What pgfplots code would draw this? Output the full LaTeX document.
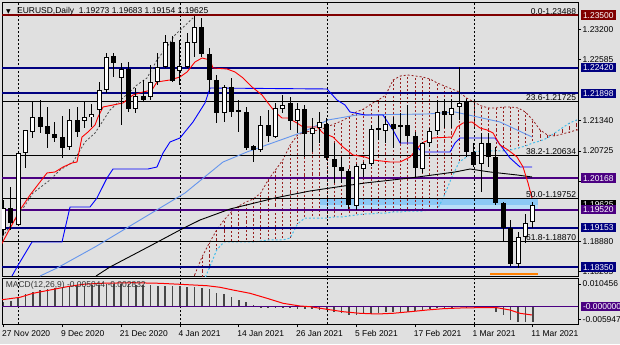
\documentclass[border=0pt]{standalone}
\usepackage{pgfplots}
\pgfplotsset{compat=1.18}
\usepackage{pgfplotstable}
\usepackage{fontspec}
\setmainfont{Liberation Sans}
\newfontfamily\dejavu{DejaVu Sans}
\newcommand\ff{\fontsize{8.5}{10}\selectfont}
\definecolor{bgc}{RGB}{224,224,224}
\definecolor{navyc}{RGB}{0,0,128}
\definecolor{purp}{RGB}{75,0,130}
\definecolor{dred}{RGB}{128,0,0}
\definecolor{cloudb}{RGB}{150,30,30}
\definecolor{cyanc}{RGB}{70,190,235}
\definecolor{cornf}{RGB}{100,149,237}
\definecolor{rectA}{RGB}{140,200,245}
\definecolor{rectB}{RGB}{185,222,248}
\definecolor{histc}{RGB}{70,70,70}

\pgfplotstableread{
i o h l c
0 1.19107 1.19720 1.19005 1.19556
1 1.19556 1.19986 1.19107 1.19250
2 1.19209 1.20701 1.19189 1.20680
3 1.20680 1.21150 1.20374 1.21150
4 1.21109 1.21722 1.20987 1.21416
5 1.21416 1.21763 1.21089 1.21212
6 1.21232 1.21620 1.20782 1.21068
7 1.21068 1.21314 1.20905 1.20987
8 1.21007 1.21436 1.20578 1.20782
9 1.20803 1.21579 1.20742 1.21355
10 1.21355 1.21620 1.21007 1.21109
11 1.21334 1.21743 1.21191 1.21416
12 1.21416 1.21681 1.21212 1.21477
13 1.21559 1.22131 1.21212 1.21968
14 1.21968 1.22724 1.21906 1.22642
15 1.22662 1.22724 1.22233 1.22519
16 1.22213 1.22519 1.21252 1.22397
17 1.22397 1.22540 1.21518 1.21579
18 1.21579 1.22008 1.21498 1.21845
19 1.21845 1.22172 1.21743 1.21763
20 1.21824 1.22478 1.21763 1.22131
21 1.22131 1.22724 1.22070 1.22437
22 1.22437 1.23091 1.22417 1.22948
23 1.22948 1.23071 1.22131 1.22151
24 1.22356 1.22989 1.22070 1.22458
25 1.22437 1.23132 1.22417 1.22948
26 1.22928 1.23488 1.22642 1.23255
27 1.23255 1.23430 1.22642 1.22703
28 1.22703 1.22826 1.21927 1.22172
29 1.22172 1.22274 1.21293 1.21498
30 1.21498 1.22070 1.21314 1.22029
31 1.22029 1.22213 1.21416 1.21518
32 1.21559 1.21763 1.21109 1.21518
33 1.21518 1.21620 1.20742 1.20782
34 1.20823 1.20844 1.20496 1.20742
35 1.20742 1.21436 1.20701 1.21252
36 1.21252 1.21559 1.20905 1.21028
37 1.21007 1.21702 1.20987 1.21600
38 1.21579 1.21865 1.21498 1.21661
39 1.21702 1.21824 1.21150 1.21334
40 1.21334 1.21702 1.21089 1.21579
41 1.21579 1.21661 1.20599 1.21068
42 1.21068 1.21395 1.20701 1.21191
43 1.21191 1.21518 1.20885 1.21314
44 1.21273 1.21395 1.20537 1.20578
45 1.20558 1.20885 1.20067 1.20394
46 1.20394 1.20599 1.20067 1.20312
47 1.20312 1.20353 1.19536 1.19618
48 1.19597 1.20455 1.19516 1.20415
49 1.20353 1.20496 1.20190 1.20455
50 1.20455 1.21252 1.20415 1.21171
51 1.21191 1.21436 1.20946 1.21150
52 1.21130 1.21436 1.20885 1.21273
53 1.21273 1.21416 1.20782 1.21171
54 1.21212 1.21498 1.20885 1.21252
55 1.21252 1.21661 1.20905 1.21028
56 1.21028 1.21109 1.20190 1.20374
57 1.20353 1.20905 1.20272 1.20885
58 1.20885 1.21191 1.20803 1.21130
59 1.21130 1.21763 1.21048 1.21518
60 1.21538 1.21784 1.21191 1.21457
61 1.21457 1.21784 1.21191 1.21600
62 1.21620 1.22430 1.21355 1.21702
63 1.21743 1.21784 1.20599 1.20701
64 1.20701 1.20885 1.20394 1.20435
65 1.20455 1.21089 1.19883 1.20885
66 1.20885 1.21089 1.20394 1.20599
67 1.20599 1.20803 1.19618 1.19659
68 1.19659 1.19680 1.18882 1.19148
69 1.19148 1.19311 1.18371 1.18412
70 1.18412 1.19066 1.18330 1.18964
71 1.18964 1.19434 1.18841 1.19250
72 1.19273 1.19683 1.19154 1.19625
}\candles

\pgfplotstableread{
x y
-0.48 1.18760
1.29 1.19250
2.24 1.19516
3.61 1.19822
4.97 1.20088
5.92 1.20272
7.01 1.20292
8.10 1.20394
9.32 1.20476
10.0 1.20496
10.68 1.21007
11.50 1.21109
12.45 1.21252
12.86 1.21416
13.54 1.21620
14.90 1.21661
16.26 1.21702
17.62 1.21865
18.98 1.21927
20.20 1.21968
20.88 1.22131
22.65 1.22172
24.01 1.22233
24.97 1.22335
26.05 1.22540
27.01 1.22621
28.10 1.22581
28.50 1.22417
30.41 1.22397
31.50 1.22335
32.59 1.22213
33.81 1.22029
35.17 1.21865
35.99 1.21702
36.94 1.21518
37.89 1.21395
38.71 1.21395
39.93 1.21293
40.75 1.21212
42.65 1.21212
43.47 1.21089
44.83 1.21007
46.19 1.20803
47.55 1.20639
49.18 1.20599
50.27 1.20537
52.59 1.20496
53.95 1.20496
55.31 1.20599
56.94 1.20885
58.44 1.20987
61.02 1.21007
61.70 1.21212
62.52 1.21293
63.74 1.21314
64.83 1.21191
65.78 1.21150
66.60 1.21089
67.55 1.20844
68.64 1.20742
69.86 1.20599
70.68 1.20394
71.36 1.20067
71.90 1.19761
}\tenkan

\pgfplotstableread{
x y
1.16 1.18167
1.84 1.18351
3.88 1.18862
7.96 1.18862
9.05 1.19577
11.77 1.19577
12.72 1.19761
14.08 1.20169
14.90 1.20353
19.66 1.20353
20.88 1.20394
21.70 1.20680
22.65 1.20905
24.01 1.20987
25.78 1.21314
27.41 1.21702
28.10 1.22008
44.01 1.21988
45.37 1.21763
46.46 1.21661
47.14 1.21518
49.18 1.21457
51.63 1.21457
52.99 1.21150
53.95 1.20885
55.71 1.20885
56.94 1.20701
60.75 1.20701
61.43 1.20885
62.11 1.20987
66.87 1.20987
68.91 1.20578
70.27 1.20394
71.90 1.20394
}\kijun

\pgfplotstableread{
x y
4.97 1.18167
7.28 1.18330
12.45 1.18760
18.57 1.19311
24.69 1.19863
29.86 1.20496
33.13 1.20701
36.94 1.20905
40.75 1.21109
44.15 1.21355
48.10 1.21457
57.62 1.21477
61.43 1.21518
67.55 1.21314
71.90 1.21007
}\maA

\pgfplotstableread{
x y
12.59 1.18167
14.49 1.18351
19.93 1.18780
24.01 1.19107
26.73 1.19311
30.82 1.19536
36.94 1.19761
41.70 1.19904
45.37 1.19986
49.18 1.20067
55.31 1.20169
61.43 1.20292
63.47 1.20353
66.19 1.20292
69.86 1.20231
71.90 1.20190
}\maB

\pgfplotstableread{
x y
-0.48 1.18903
2.24 1.19454
4.01 1.19863
6.33 1.20129
7.69 1.20333
9.46 1.20496
11.09 1.20905
12.45 1.21089
14.49 1.21559
16.26 1.21804
18.16 1.22070
19.52 1.22213
20.88 1.22581
22.24 1.22846
23.33 1.23091
25.78 1.23439
}\chik

\pgfplotstableread{
i u d
26 1.18187 1.17983
27 1.18555 1.17983
28 1.18841 1.18330
29 1.19107 1.18698
30 1.19311 1.18862
31 1.19475 1.18862
32 1.19597 1.18862
33 1.19679 1.18862
34 1.19740 1.18862
35 1.19863 1.18882
36 1.20129 1.18903
37 1.20333 1.18903
38 1.20537 1.18903
39 1.20844 1.18943
40 1.21048 1.19230
41 1.21109 1.19352
42 1.21130 1.19352
43 1.21150 1.19352
44 1.21212 1.19352
45 1.21273 1.19373
46 1.21334 1.19373
47 1.21416 1.19393
48 1.21518 1.19414
49 1.21579 1.19434
50 1.21681 1.19434
51 1.21763 1.19454
52 1.21865 1.19454
53 1.22172 1.19475
54 1.22254 1.19475
55 1.22274 1.19495
56 1.22254 1.19495
57 1.22233 1.19495
58 1.22192 1.19516
59 1.22111 1.19516
60 1.22049 1.19822
61 1.21988 1.20190
62 1.21927 1.20496
63 1.21804 1.20599
64 1.21722 1.20701
65 1.21641 1.20721
66 1.21600 1.20721
67 1.21600 1.20721
68 1.21620 1.20721
69 1.21620 1.20742
70 1.21600 1.20782
71 1.21518 1.20823
72 1.21355 1.20885
73 1.21150 1.20925
74 1.21048 1.20987
75 1.21028 1.21089
76 1.21068 1.21191
77 1.21109 1.21293
78 1.21150 1.21355
79 1.21170 1.21416
}\cloud

\pgfplotstableread{
x y
0 0.00230
1 0.00276
2 0.00387
3 0.00571
4 0.00691
5 0.00769
6 0.00801
7 0.00848
8 0.00875
9 0.00953
10 0.00953
11 0.00967
12 0.01000
13 0.01013
14 0.01046
15 0.01046
16 0.01032
17 0.01032
18 0.01013
19 0.01000
20 0.00986
21 0.00953
22 0.00953
23 0.00940
24 0.00940
25 0.00894
26 0.00894
27 0.00861
28 0.00801
29 0.00645
30 0.00585
31 0.00461
32 0.00309
33 0.00203
34 0.00078
35 0.00005
36 -0.00010
37 -0.00030
38 -0.00050
39 -0.00070
40 -0.00090
41 -0.00110
42 -0.00125
43 -0.00140
44 -0.00152
45 -0.00230
46 -0.00276
47 -0.00382
48 -0.00382
49 -0.00350
50 -0.00336
51 -0.00304
52 -0.00230
53 -0.00230
54 -0.00230
55 -0.00230
56 -0.00198
57 -0.00184
58 -0.00120
59 -0.00074
60 -0.00046
61 -0.00014
62 0.00040
63 0.00005
64 0.00000
65 -0.00005
66 -0.00010
67 -0.00230
68 -0.00382
69 -0.00613
70 -0.00691
71 -0.00691
72 -0.00691
}\macdh

\pgfplotstableread{
x y
-0.48 0.00309
2.24 0.00433
4.01 0.00617
6.33 0.00769
8.64 0.00921
10.82 0.01032
13.13 0.01078
17.62 0.01105
21.29 0.01078
24.01 0.01032
27.69 0.00967
29.46 0.00894
31.22 0.00769
33.54 0.00617
35.85 0.00387
38.03 0.00157
40.34 0.00032
41.70 0.00000
44.01 -0.00120
46.19 -0.00230
48.50 -0.00304
50.82 -0.00336
52.99 -0.00304
55.31 -0.00230
57.62 -0.00152
59.80 -0.00092
62.11 -0.00060
64.42 -0.00046
67.14 -0.00046
68.91 -0.00152
70.27 -0.00304
71.90 -0.00382
}\macds

\begin{document}
\begin{tikzpicture}[x=1bp,y=1bp,
  box/.style={font=\ff, anchor=west, text=white, inner xsep=2.3bp, inner ysep=1.6bp, text height=6.1bp, text depth=0bp, xshift=2.5bp},
  fib/.style={font=\ff, anchor=south east, inner sep=0.8bp, xshift=-1bp},
  sep/.style={black, line width=0.8bp, dash pattern=on 2bp off 2bp}]
\useasboundingbox (0,0) rectangle (620,344);
\fill[bgc] (0,0) rectangle (620,344);

\begin{axis}[at={(2bp,68bp)}, anchor=south west, scale only axis,
  width=576bp, height=273.5bp,
  xmin=-0.204, xmax=78.16, ymin=1.18167, ymax=1.23755,
  clip mode=individual,
  axis line style={black, line width=0.8bp},
  xtick=\empty,
  ytick={1.232,1.22585,1.2134,1.20725,1.2011,1.1888,1.18265},
  yticklabels={1.23200,1.22585,1.21340,1.20725,1.20110,1.18880,1.18265},
  ytick pos=right, yticklabel pos=right, tick align=outside,
  major tick length=3bp, tick style={black, line width=0.6bp},
  yticklabel style={font=\ff, inner xsep=1.5bp},
  scaled y ticks=false]

% zone rectangle
\addplot[fill=rectA, draw=none] coordinates {(43.06,1.19752) (72.7,1.19752) (72.7,1.19620) (43.06,1.19620)} -- cycle;
\addplot[fill=rectB, draw=none] coordinates {(43.06,1.19620) (72.7,1.19620) (72.7,1.19520) (43.06,1.19520)} -- cycle;

% cloud hatch
\addplot[draw=none, mark=none, error bars/.cd, y dir=both, y explicit, error mark=none,
  error bar style={draw=cloudb, line width=0.8bp, dash pattern=on 2bp off 2bp}]
  table[x=i, y expr={(\thisrow{u}+\thisrow{d})/2}, y error expr={abs(\thisrow{u}-\thisrow{d})/2}] {\cloud};
\addplot[cloudb, line width=0.8bp, dash pattern=on 2bp off 2bp] table[x=i, y=u] {\cloud};
\addplot[cyanc, line width=1bp, dash pattern=on 2bp off 2bp] table[x=i, y=d] {\cloud};

% period separators
\addplot[sep] coordinates {(2,1.17) (2,1.24)};
\addplot[sep] coordinates {(24,1.17) (24,1.24)};
\addplot[sep] coordinates {(44,1.17) (44,1.24)};
\addplot[sep] coordinates {(64,1.17) (64,1.24)};

% fibo levels
\addplot[black, line width=0.8bp] coordinates {(-1,1.23488) (80,1.23488)};
\addplot[black, line width=0.8bp] coordinates {(-1,1.21725) (80,1.21725)};
\addplot[black, line width=0.8bp] coordinates {(-1,1.20634) (80,1.20634)};
\addplot[black, line width=0.8bp] coordinates {(-1,1.19752) (80,1.19752)};
\addplot[black, line width=0.8bp] coordinates {(-1,1.18870) (80,1.18870)};

% horizontal levels
\addplot[dred, line width=2bp] coordinates {(-1,1.2350) (80,1.2350)};
\addplot[navyc, line width=2bp] coordinates {(-1,1.2242) (80,1.2242)};
\addplot[navyc, line width=2bp] coordinates {(-1,1.21898) (80,1.21898)};
\addplot[purp, line width=2bp] coordinates {(-1,1.20168) (80,1.20168)};
\addplot[purp, line width=2bp] coordinates {(-1,1.1952) (80,1.1952)};
\addplot[navyc, line width=2bp] coordinates {(-1,1.19153) (80,1.19153)};
\addplot[navyc, line width=2bp] coordinates {(-1,1.1835) (80,1.1835)};
\addplot[orange, line width=1.5bp] coordinates {(66.2,1.18208) (72.7,1.18208)};

% indicators
\addplot[black!70, line width=0.8bp, dash pattern=on 2bp off 2bp] table {\chik};
\addplot[black, line width=0.9bp] table {\maB};
\addplot[cornf, line width=0.9bp] table {\maA};
\addplot[blue, line width=0.9bp] table {\kijun};
\addplot[red, line width=0.9bp] table {\tenkan};

% candles: wicks, bodies, white interiors
\addplot[draw=none, mark=none, error bars/.cd, y dir=both, y explicit, error mark=none,
  error bar style={draw=black, solid, line width=1bp}]
  table[x=i, y expr={(\thisrow{h}+\thisrow{l})/2}, y error expr={(\thisrow{h}-\thisrow{l})/2}] {\candles};
\addplot[draw=none, mark=none, error bars/.cd, y dir=both, y explicit, error mark=none,
  error bar style={draw=black, solid, line width=5bp}]
  table[x=i, y expr={(\thisrow{o}+\thisrow{c})/2}, y error expr={max(abs(\thisrow{c}-\thisrow{o})/2,0.0001)}] {\candles};
\addplot[draw=none, mark=none, error bars/.cd, y dir=both, y explicit, error mark=none,
  error bar style={draw=white, solid, line width=3bp}]
  table[x=i, y expr={(\thisrow{o}+\thisrow{c})/2}, y error expr={max((\thisrow{c}-\thisrow{o})/2-0.0002,0)}] {\candles};

% fibo labels
\node[fib] at (axis cs:78.16,1.23488) {0.0-1.23488};
\node[fib] at (axis cs:78.16,1.21725) {23.6-1.21725};
\node[fib] at (axis cs:78.16,1.20634) {38.2-1.20634};
\node[fib] at (axis cs:78.16,1.19752) {50.0-1.19752};
\node[fib] at (axis cs:78.16,1.18870) {61.8-1.18870};

% price boxes
\node[box, fill=dred] at (axis cs:78.16,1.2350) {1.23500};
\node[box, fill=navyc] at (axis cs:78.16,1.2242) {1.22420};
\node[box, fill=navyc] at (axis cs:78.16,1.21898) {1.21898};
\node[box, fill=purp] at (axis cs:78.16,1.20168) {1.20168};
\node[box, fill=black] at (axis cs:78.16,1.19625) {1.19625};
\node[box, fill=purp] at (axis cs:78.16,1.1952) {1.19520};
\node[box, fill=navyc] at (axis cs:78.16,1.19153) {1.19153};
\node[box, fill=navyc] at (axis cs:78.16,1.1835) {1.18350};
\end{axis}

\begin{axis}[at={(2bp,20bp)}, anchor=south west, scale only axis,
  width=576bp, height=46bp,
  xmin=-0.204, xmax=78.16, ymin=-0.00797, ymax=0.01322,
  clip mode=individual,
  axis line style={black, line width=0.8bp},
  xtick={0,8,...,72},
  xticklabels={27 Nov 2020,9 Dec 2020,21 Dec 2020,4 Jan 2021,14 Jan 2021,26 Jan 2021,5 Feb 2021,17 Feb 2021,1 Mar 2021,11 Mar 2021},
  xtick pos=bottom,
  xticklabel style={font=\ff, anchor=north west, inner xsep=1bp, xshift=-2.5bp},
  ytick={0.010456,-0.005947},
  yticklabels={0.010456,-0.005947},
  ytick pos=right, yticklabel pos=right, tick align=outside,
  major tick length=3bp, tick style={black, line width=0.6bp},
  yticklabel style={font=\ff, inner xsep=1.5bp},
  scaled y ticks=false, scaled x ticks=false]
\addplot[sep] coordinates {(2,-0.01) (2,0.02)};
\addplot[sep] coordinates {(24,-0.01) (24,0.02)};
\addplot[sep] coordinates {(44,-0.01) (44,0.02)};
\addplot[sep] coordinates {(64,-0.01) (64,0.02)};
\addplot[ycomb, histc, line width=1.6bp] table {\macdh};
\addplot[purp, line width=1bp] coordinates {(-1,0) (80,0)};
\addplot[red, line width=1bp] table {\macds};
\node[font=\ff, anchor=west, inner sep=0pt, text=black!80] at (axis cs:0.3,0.0100) {MACD(12,26,9) -0.005044 -0.002832};
\node[box, fill=purp] at (axis cs:78.16,0) {-0.000000};
\end{axis}

\node[font=\dejavu\fontsize{6}{6}\selectfont, anchor=base west, inner sep=0pt] at (6,331) {▼};
\node[font=\ff, anchor=base west, inner sep=0pt] at (17,331) {EURUSD,Daily\ \ 1.19273 1.19683 1.19154 1.19625};
\end{tikzpicture}
\end{document}
